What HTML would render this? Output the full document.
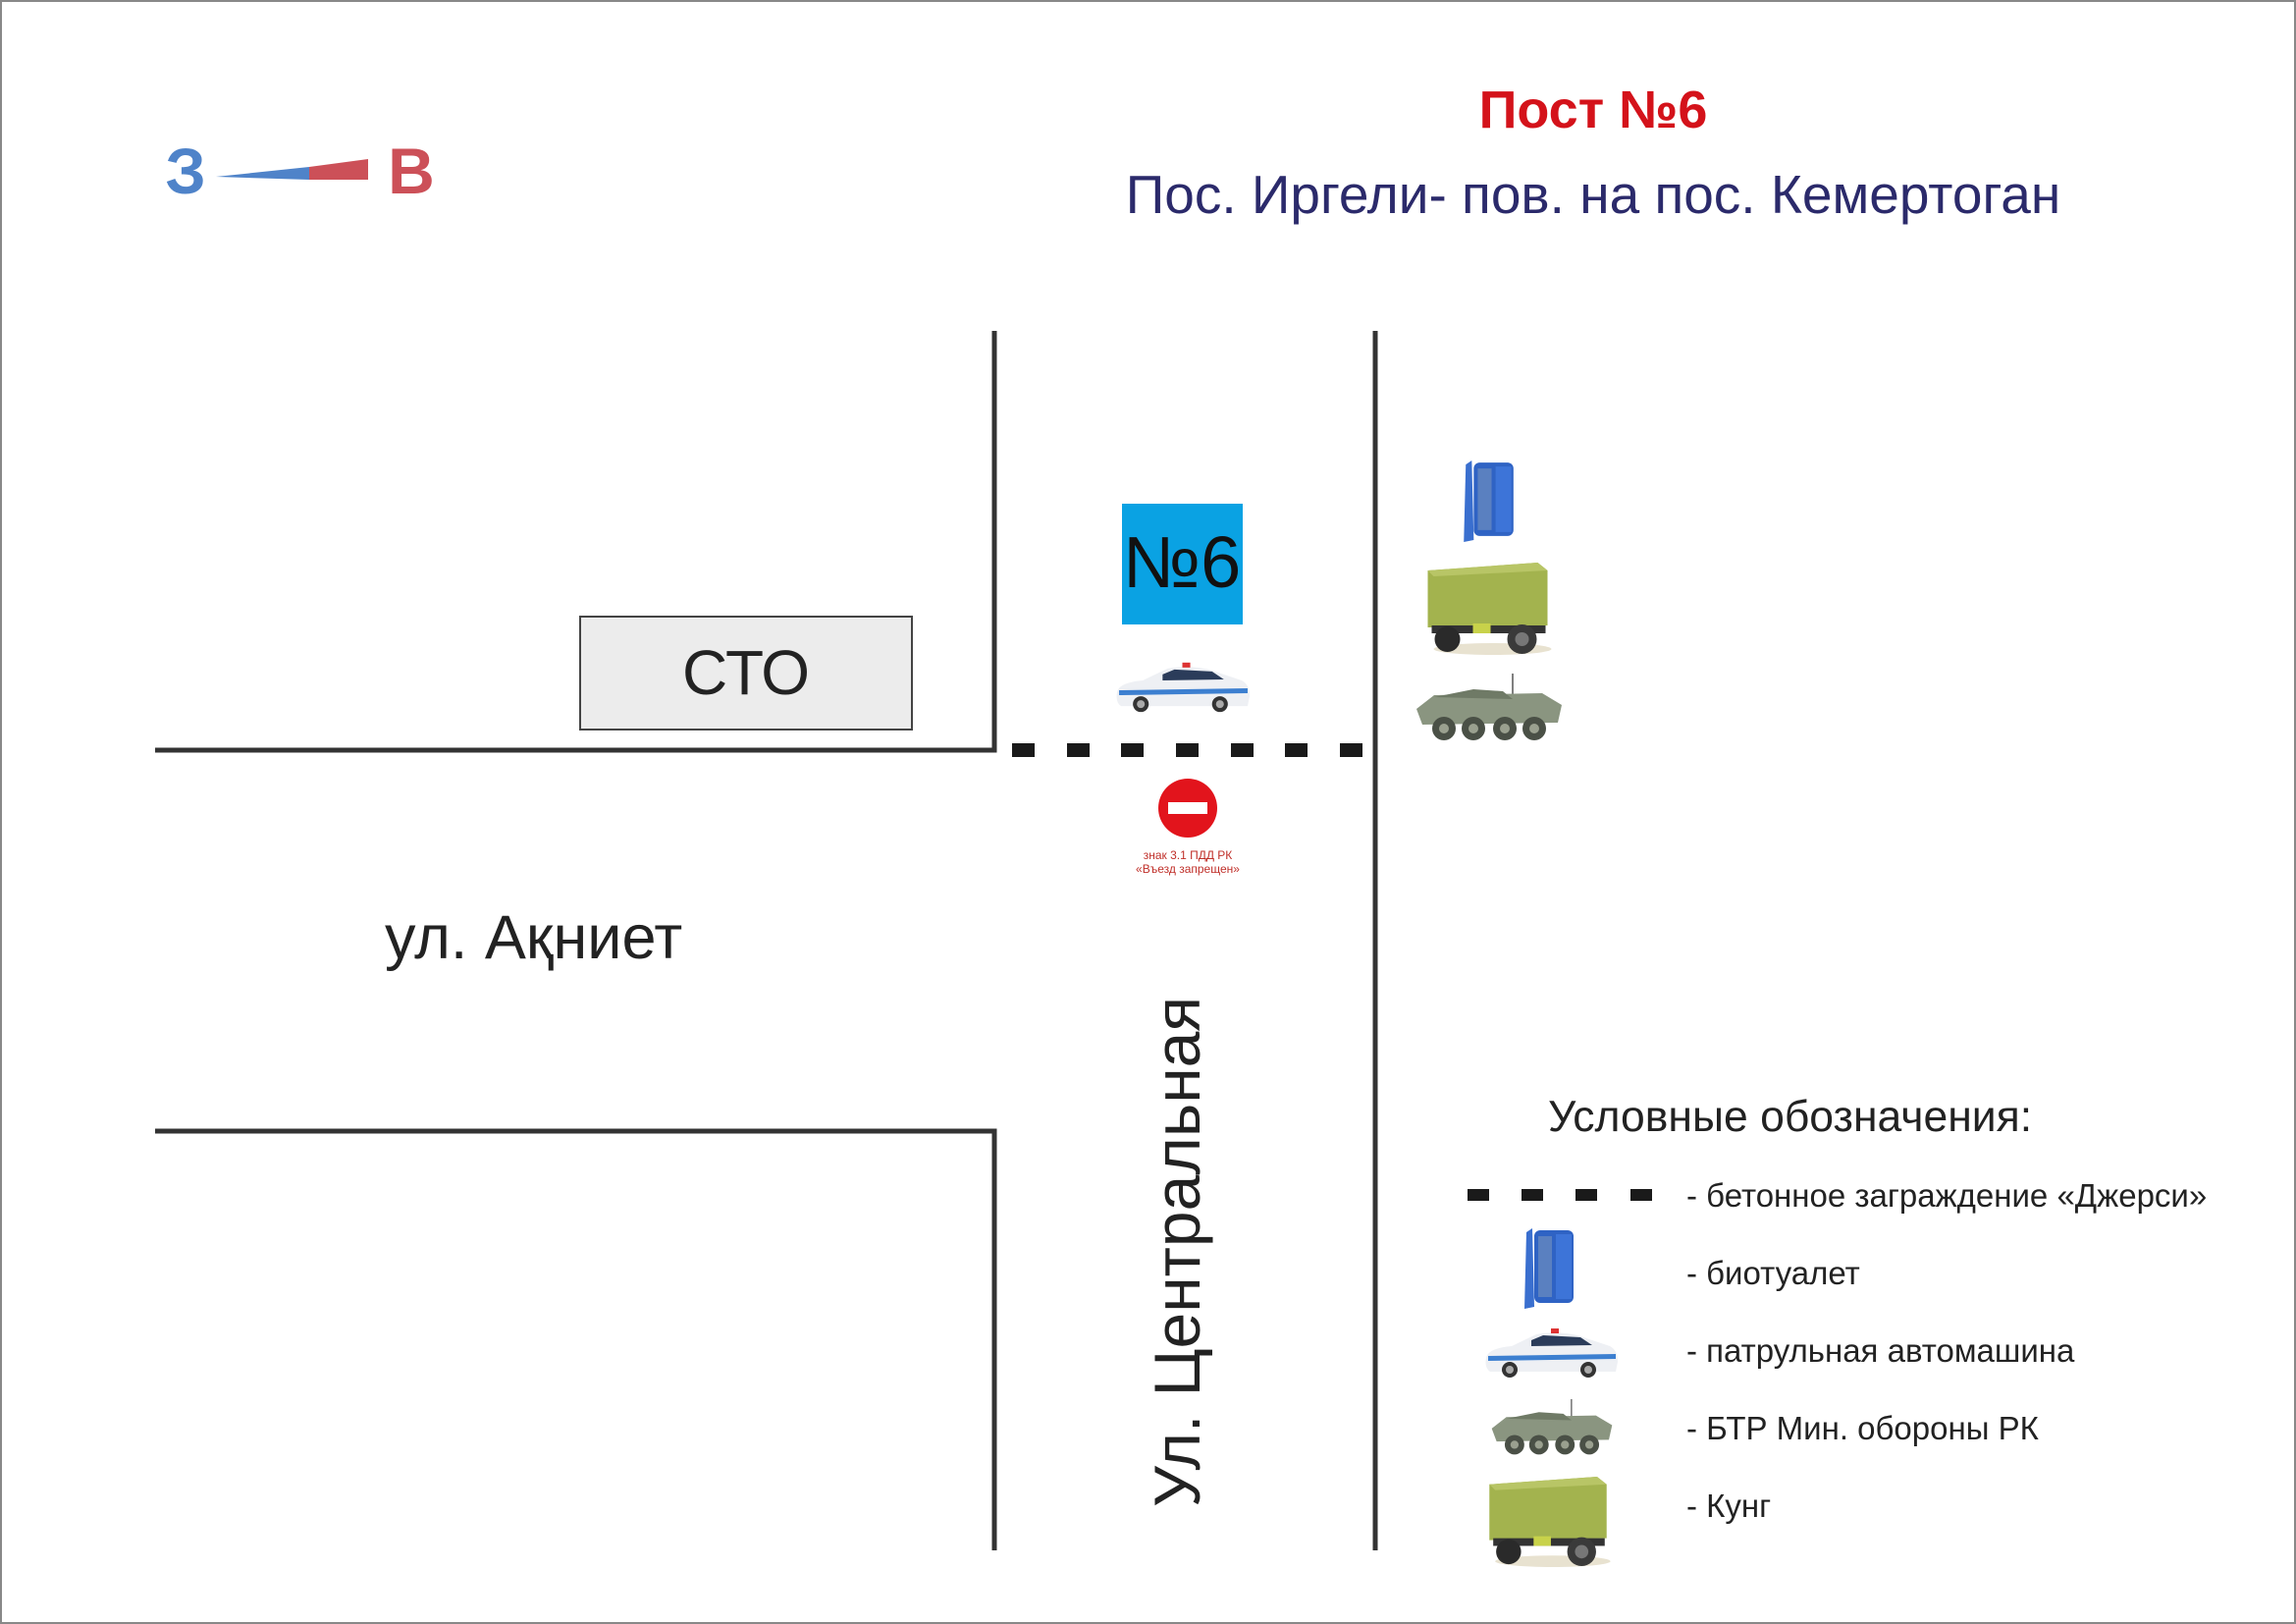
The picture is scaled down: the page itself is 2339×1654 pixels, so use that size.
<!DOCTYPE html>
<html><head><meta charset="utf-8"><style>
html,body{margin:0;padding:0;background:#fff}
svg{display:block}
text{font-family:"Liberation Sans","DejaVu Sans",sans-serif}
</style></head><body>
<svg width="2339" height="1654" viewBox="0 0 2339 1654" xmlns="http://www.w3.org/2000/svg">
<defs>
<symbol id="toilet" viewBox="0 0 60 86">
<path d="M8 8 L14 4 L16 84 L6 86 Z" fill="#3a6fcf"/>
<rect x="16" y="6" width="40" height="74" rx="6" fill="#2f63c4"/>
<rect x="20" y="12" width="14" height="62" fill="#5a80c0"/>
<rect x="38" y="10" width="16" height="66" fill="#3d74d8"/>
</symbol>
<symbol id="car" viewBox="0 0 140 54">
<path d="M4 32 Q6 22 30 20 L55 8 Q80 4 100 10 L130 20 Q138 24 138 36 L136 46 L8 46 Q2 42 4 32Z" fill="#eef0f4"/>
<path d="M50 14 L62 9 L100 11 L112 19 L50 20Z" fill="#2b3c5a"/>
<path d="M6 30 L136 28 L136 33 L6 35Z" fill="#3c7fd0"/>
<rect x="70" y="2" width="8" height="5" fill="#d33"/>
<circle cx="28" cy="44" r="8" fill="#333"/><circle cx="108" cy="44" r="8" fill="#333"/>
<circle cx="28" cy="44" r="4" fill="#aaa"/><circle cx="108" cy="44" r="4" fill="#aaa"/>
</symbol>
<symbol id="btr" viewBox="0 0 152 70">
<line x1="100" y1="0" x2="100" y2="22" stroke="#555" stroke-width="1.5"/>
<path d="M2 36 L20 22 L130 20 L150 32 L146 50 L8 52Z" fill="#8a9580"/>
<path d="M20 24 L60 16 L90 18 L100 26 Z" fill="#6f7a66"/>
<g fill="#4a5046"><circle cx="30" cy="56" r="12"/><circle cx="60" cy="56" r="12"/><circle cx="92" cy="56" r="12"/><circle cx="122" cy="56" r="12"/></g>
<g fill="#9aa08f"><circle cx="30" cy="56" r="5"/><circle cx="60" cy="56" r="5"/><circle cx="92" cy="56" r="5"/><circle cx="122" cy="56" r="5"/></g>
</symbol>
<symbol id="kung" viewBox="0 0 130 96">
<path d="M4 10 L116 2 L126 10 L126 66 L4 68Z" fill="#a3b34e"/>
<path d="M4 10 L116 2 L126 10 L10 16Z" fill="#b8c566"/>
<rect x="8" y="66" width="116" height="8" fill="#333"/>
<rect x="50" y="64" width="18" height="10" fill="#c8d24a"/>
<ellipse cx="70" cy="90" rx="60" ry="6" fill="#e8e2d0"/>
<circle cx="24" cy="80" r="13" fill="#2a2a2a"/><circle cx="100" cy="80" r="15" fill="#3a3a3a"/>
<circle cx="100" cy="80" r="7" fill="#777"/>
</symbol>
</defs>
<rect x="1" y="1" width="2337" height="1652" fill="#fff" stroke="#888" stroke-width="2"/>

<text x="189" y="197" font-size="66" font-weight="bold" fill="#4f83c9" text-anchor="middle">З</text>
<polygon points="220,180 315,170 315,183" fill="#4f83c9"/>
<polygon points="315,170 375,162 375,183 315,183" fill="#cc5058"/>
<text x="419" y="197" font-size="66" font-weight="bold" fill="#cc5058" text-anchor="middle">В</text>

<text x="1623" y="130" font-size="54" font-weight="bold" fill="#d4121a" text-anchor="middle">Пост №6</text>
<text x="1623" y="217" font-size="55" fill="#2b2a6b" text-anchor="middle">Пос. Иргели- пов. на пос. Кемертоган</text>

<g stroke="#333" stroke-width="5" fill="none">
<polyline points="158,764 1013,764 1013,337"/>
<polyline points="158,1152 1013,1152 1013,1579"/>
<line x1="1401" y1="337" x2="1401" y2="1579"/>
</g>
<g fill="#1a1a1a">
<rect x="1031" y="757" width="23" height="14"/><rect x="1087" y="757" width="23" height="14"/>
<rect x="1142" y="757" width="23" height="14"/><rect x="1198" y="757" width="23" height="14"/>
<rect x="1254" y="757" width="23" height="14"/><rect x="1309" y="757" width="23" height="14"/>
<rect x="1365" y="757" width="23" height="14"/>
</g>

<rect x="591" y="628" width="338" height="115" fill="#ececec" stroke="#444" stroke-width="2"/>
<text x="760" y="707" font-size="64" fill="#222" text-anchor="middle">СТО</text>

<rect x="1143" y="513" width="123" height="123" fill="#0aa2e3"/>
<text x="1204" y="598" font-size="74" fill="#111" text-anchor="middle">№6</text>

<use href="#car" x="1134" y="670" width="141" height="60"/>
<use href="#toilet" x="1484" y="465" width="63" height="87"/>
<use href="#kung" x="1450" y="571" width="131" height="96"/>
<use href="#btr" x="1441" y="686" width="152" height="70"/>

<circle cx="1210" cy="823" r="30" fill="#e2141c"/>
<rect x="1190" y="817" width="40" height="12" fill="#fff"/>
<text x="1210" y="875" font-size="12" fill="#c0302a" text-anchor="middle">знак 3.1 ПДД РК</text>
<text x="1210" y="889" font-size="12" fill="#c0302a" text-anchor="middle">«Въезд запрещен»</text>

<text x="392" y="976" font-size="63" fill="#222">ул. Ақниет</text>
<text transform="translate(1222,1535) rotate(-90)" font-size="66" fill="#222">Ул. Центральная</text>

<text x="1577" y="1152" font-size="44.5" fill="#222">Условные обозначения:</text>
<g fill="#1a1a1a">
<rect x="1495" y="1211" width="22" height="12"/><rect x="1550" y="1211" width="22" height="12"/>
<rect x="1605" y="1211" width="22" height="12"/><rect x="1661" y="1211" width="22" height="12"/>
</g>
<g font-size="33" fill="#222">
<text x="1718" y="1229">- бетонное заграждение «Джерси»</text>
<text x="1718" y="1308">- биотуалет</text>
<text x="1718" y="1387">- патрульная автомашина</text>
<text x="1718" y="1466">- БТР Мин. обороны РК</text>
<text x="1718" y="1545">- Кунг</text>
</g>
<use href="#toilet" x="1547" y="1247" width="60" height="86"/>
<use href="#car" x="1510" y="1348" width="140" height="60"/>
<use href="#btr" x="1511" y="1425" width="140" height="58"/>
<use href="#kung" x="1513" y="1502" width="128" height="94"/>
</svg>
</body></html>
